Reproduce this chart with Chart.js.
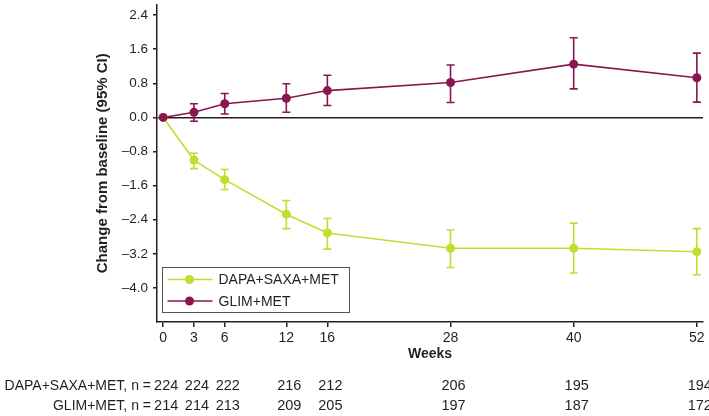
<!DOCTYPE html>
<html>
<head>
<meta charset="utf-8">
<script src="https://cdn.jsdelivr.net/npm/chart.js@4.4.1/dist/chart.umd.min.js"></script>
<style>
  html, body { margin: 0; padding: 0; background: #fff; }
</style>
</head>
<body>
<canvas id="chart" width="709" height="416"></canvas>
<script>
// weeks on the x axis
var weeks = [0, 3, 6, 12, 16, 28, 40, 52];

// DAPA+SAXA+MET: mean change and 95% CI
var dapaMean = [0, -1.0, -1.46, -2.27, -2.71, -3.07, -3.07, -3.15];
var dapaLow  = [null, -1.2, -1.69, -2.61, -3.09, -3.52, -3.65, -3.69];
var dapaHigh = [null, -0.84, -1.22, -1.95, -2.37, -2.64, -2.48, -2.61];

// GLIM+MET: mean change and 95% CI
var glimMean = [0, 0.12, 0.32, 0.45, 0.63, 0.82, 1.25, 0.93];
var glimLow  = [null, -0.09, 0.08, 0.12, 0.28, 0.35, 0.67, 0.36];
var glimHigh = [null, 0.32, 0.56, 0.79, 0.99, 1.23, 1.87, 1.51];

// patients at risk
var dapaN = [224, 224, 222, 216, 212, 206, 195, 194];
var glimN = [214, 214, 213, 209, 205, 197, 187, 172];

var yTicks = [-4.0, -3.2, -2.4, -1.6, -0.8, 0.0, 0.8, 1.6, 2.4];

var FONT = '"Liberation Sans", Arial, Helvetica, sans-serif';
var INK = '#231f20';
var GREEN = '#c6db2f';
var PURPLE = '#8a1650';

function points(means) {
    return weeks.map(function (w, i) { return { x: w, y: means[i] }; });
}

function fmt(v) {
    return Number(v).toFixed(1).replace('-', '\u2013');
}

// whiskers for the 95% CI, drawn under the points
var errorBars = {
    id: 'errorBars',
    beforeDatasetsDraw: function (chart) {
        var ctx = chart.ctx;
        var xs = chart.scales.x, ys = chart.scales.y;
        chart.data.datasets.forEach(function (ds) {
            ctx.save();
            ctx.strokeStyle = ds.borderColor;
            ctx.lineWidth = 1.6;
            weeks.forEach(function (w, i) {
                if (ds.lo[i] == null) return;
                var x = xs.getPixelForValue(w);
                var y1 = ys.getPixelForValue(ds.lo[i]);
                var y2 = ys.getPixelForValue(ds.hi[i]);
                ctx.beginPath();
                ctx.moveTo(x, y1); ctx.lineTo(x, y2);
                ctx.moveTo(x - 4, y1); ctx.lineTo(x + 4, y1);
                ctx.moveTo(x - 4, y2); ctx.lineTo(x + 4, y2);
                ctx.stroke();
            });
            ctx.restore();
        });
    }
};

// boxed legend in the lower left of the plot
var boxLegend = {
    id: 'boxLegend',
    afterDraw: function (chart) {
        var ctx = chart.ctx;
        var left = chart.chartArea.left + 5.5;
        var top = 267.5;
        ctx.save();
        ctx.fillStyle = '#fff';
        ctx.fillRect(left, top, 187, 45);
        ctx.strokeStyle = '#555';
        ctx.lineWidth = 1;
        ctx.strokeRect(left, top, 187, 45);
        ctx.font = '14px ' + FONT;
        ctx.textBaseline = 'middle';
        chart.data.datasets.forEach(function (ds, i) {
            var y = top + 12 + i * 21.5;
            ctx.strokeStyle = ds.borderColor;
            ctx.lineWidth = 1.6;
            ctx.beginPath();
            ctx.moveTo(left + 5, y); ctx.lineTo(left + 50, y);
            ctx.stroke();
            ctx.fillStyle = ds.borderColor;
            ctx.beginPath();
            ctx.arc(left + 27, y, 4.5, 0, Math.PI * 2);
            ctx.fill();
            ctx.fillStyle = INK;
            ctx.textAlign = 'left';
            ctx.fillText(ds.label, left + 56, y + 1);
        });
        ctx.restore();
    }
};

// numbers at risk under the x axis
var riskTable = {
    id: 'riskTable',
    afterDraw: function (chart) {
        var ctx = chart.ctx;
        var xs = chart.scales.x;
        var rows = [
            { label: 'DAPA+SAXA+MET, n =', n: dapaN, y: 386 },
            { label: 'GLIM+MET, n =', n: glimN, y: 406 }
        ];
        ctx.save();
        ctx.fillStyle = INK;
        ctx.textBaseline = 'middle';
        rows.forEach(function (r) {
            ctx.font = '14px ' + FONT;
            ctx.textAlign = 'right';
            ctx.fillText(r.label, 151, r.y);
            ctx.font = '14.5px ' + FONT;
            ctx.textAlign = 'center';
            weeks.forEach(function (w, i) {
                ctx.fillText(String(r.n[i]), xs.getPixelForValue(w) + 3, r.y);
            });
        });
        ctx.restore();
    }
};

var ctx = document.getElementById('chart').getContext('2d');
var myChart = new Chart(ctx, {
    type: 'line',
    data: {
        datasets: [{
            label: 'DAPA+SAXA+MET',
            data: points(dapaMean),
            lo: dapaLow,
            hi: dapaHigh,
            borderColor: GREEN,
            backgroundColor: GREEN,
            borderWidth: 1.6,
            pointRadius: 4.5,
            pointHoverRadius: 4.5,
            pointBorderWidth: 0,
            order: 1
        }, {
            label: 'GLIM+MET',
            data: points(glimMean),
            lo: glimLow,
            hi: glimHigh,
            borderColor: PURPLE,
            backgroundColor: PURPLE,
            borderWidth: 1.6,
            pointRadius: 4.5,
            pointHoverRadius: 4.5,
            pointBorderWidth: 0,
            order: 0
        }]
    },
    options: {
        responsive: false,
        animation: false,
        layout: { padding: { left: 0, right: 6, top: 0, bottom: 53 } },
        plugins: {
            legend: { display: false },
            tooltip: { enabled: false }
        },
        scales: {
            x: {
                type: 'linear',
                min: -0.6,
                max: 52.6,
                afterBuildTicks: function (s) {
                    s.ticks = weeks.map(function (v) { return { value: v }; });
                },
                afterFit: function (s) {
                    s.height = 41;
                    s.paddingLeft = 0;
                    s.paddingRight = 0;
                },
                border: { color: INK, width: 1.5 },
                grid: { drawOnChartArea: false, tickLength: 5, color: INK, tickColor: INK, lineWidth: 1.5 },
                ticks: {
                    autoSkip: false,
                    maxRotation: 0,
                    padding: 3,
                    color: INK,
                    font: { family: FONT, size: 14 },
                    callback: function (v) { return v; }
                },
                title: {
                    display: true,
                    text: 'Weeks',
                    color: INK,
                    font: { family: FONT, size: 14, weight: 'bold' },
                    padding: { top: 0, bottom: 0 }
                }
            },
            y: {
                min: -4.8,
                max: 2.65,
                afterBuildTicks: function (s) {
                    s.ticks = yTicks.map(function (v) { return { value: v }; });
                },
                afterFit: function (s) {
                    s.width = 157;
                    s.paddingTop = 0;
                    s.paddingBottom = 0;
                },
                border: { color: INK, width: 1.5 },
                grid: {
                    color: function (c) {
                        return c.tick && c.tick.value === 0 ? INK : 'rgba(0,0,0,0)';
                    },
                    tickColor: INK,
                    tickLength: 4,
                    lineWidth: 1.5
                },
                ticks: {
                    padding: 5,
                    color: INK,
                    font: { family: FONT, size: 13.5 },
                    callback: function (v) { return fmt(v); }
                },
                title: {
                    display: true,
                    text: 'Change from baseline (95% CI)',
                    color: INK,
                    font: { family: FONT, size: 15, weight: 'bold' },
                    padding: { top: 94, bottom: 0 }
                }
            }
        }
    },
    plugins: [errorBars, boxLegend, riskTable]
});
</script>
</body>
</html>
